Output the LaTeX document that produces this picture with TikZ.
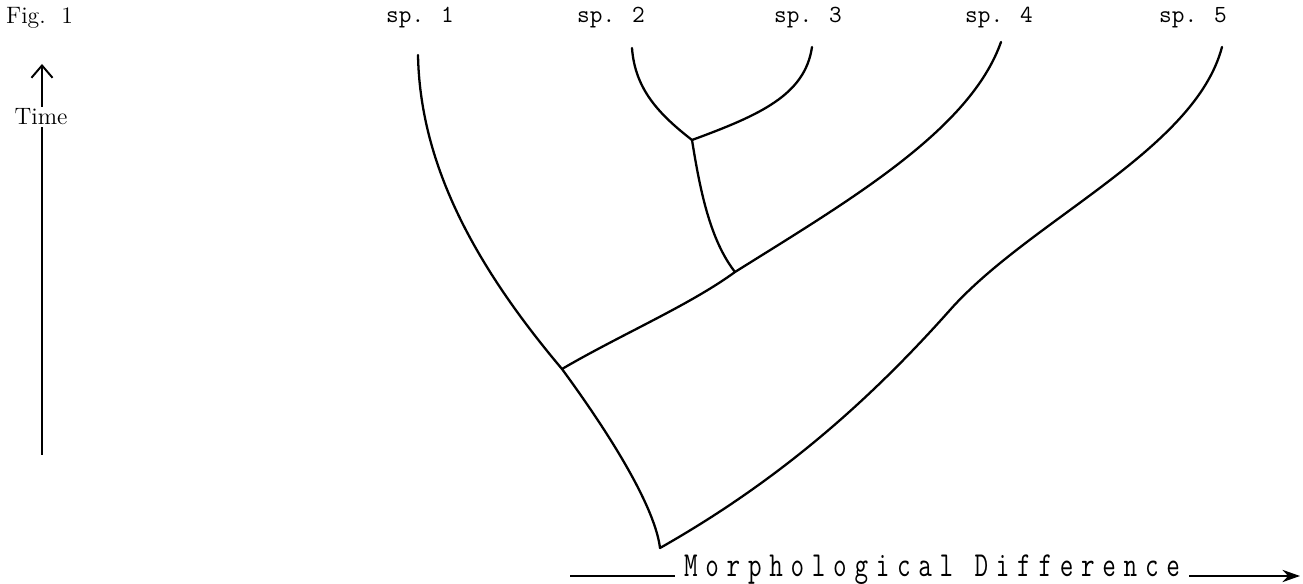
\documentclass[tikz,border=0pt]{standalone}
\usepackage{fontspec}
\usepackage{tikz}
\usetikzlibrary{arrows.meta,positioning}
\newfontfamily\typewriter{Latin Modern Mono}
\newfontfamily\typenarrow[FakeStretch=0.75, LetterSpace=22]{Latin Modern Mono}

\begin{document}
\begin{tikzpicture}[
  x=0.02cm, y=-0.02cm,
  branch/.style={line width=1.3pt, line cap=round},
  axis/.style={line width=1.1pt},
  splabel/.style={font=\typewriter\fontsize{14}{16}\selectfont, inner sep=1pt},
  figlabel/.style={font=\fontsize{13.5}{15}\selectfont, inner sep=1pt}
]
  \useasboundingbox (0,0) rectangle (1303,584);

  % species labels
  \node[splabel] (s1) at (420,18) {sp. 1};
  \node[splabel] (s2) at (611,18) {sp. 2};
  \node[splabel] (s3) at (808,18) {sp. 3};
  \node[splabel] (s4) at (999,18) {sp. 4};
  \node[splabel] (s5) at (1193,18) {sp. 5};

  % branch points and tips
  \coordinate (root) at (660,548);
  \coordinate (n1) at (562,369);
  \coordinate (n2) at (735,272);
  \coordinate (n3) at (692,140);
  \coordinate (m5) at (950,310);
  \coordinate (t1) at (418,55);
  \coordinate (t2) at (632,48);
  \coordinate (t3) at (812,47);
  \coordinate (t4) at (1001,42);
  \coordinate (t5) at (1222,47);

  % tree
  \draw[branch] (root) .. controls (656,515) and (625,455) .. (n1);
  \draw[branch] (n1) .. controls (470,260) and (420,160) .. (t1);
  \draw[branch] (n1) .. controls (620,335) and (690,305) .. (n2);
  \draw[branch] (n2) .. controls (850,200) and (970,130) .. (t4);
  \draw[branch] (n2) .. controls (710,240) and (700,190) .. (n3);
  \draw[branch] (n3) .. controls (660,115) and (635,90) .. (t2);
  \draw[branch] (n3) .. controls (760,115) and (805,95) .. (t3);
  \draw[branch] (root) .. controls (780,480) and (870,400) .. (m5)
                       .. controls (1030,220) and (1195,150) .. (t5);

  % time axis
  \node[figlabel, anchor=west] (fig) at (4,18) {Fig.~~1};
  \node[figlabel] (time) at (41,117) {Time};
  \coordinate (tbot) at (42,455);
  \coordinate (ttop) at (42,64);
  \draw[axis] (tbot) -- (time.south -| tbot);
  \draw[axis, -{Straight Barb[length=7pt, width=12pt]}] (time.north -| ttop) -- (ttop);

  % morphology axis
  \node[font=\typenarrow\fontsize{20}{24}\selectfont, inner sep=5pt] (morph) at (932,570) {Morphological Difference};
  \coordinate (mleft) at (570,576);
  \coordinate (mright) at (1300,576);
  \draw[axis] (mleft) -- (mleft -| morph.west);
  \draw[axis, -{Stealth[length=10pt, width=7pt]}] (mright -| morph.east) -- (mright);
\end{tikzpicture}
\end{document}
